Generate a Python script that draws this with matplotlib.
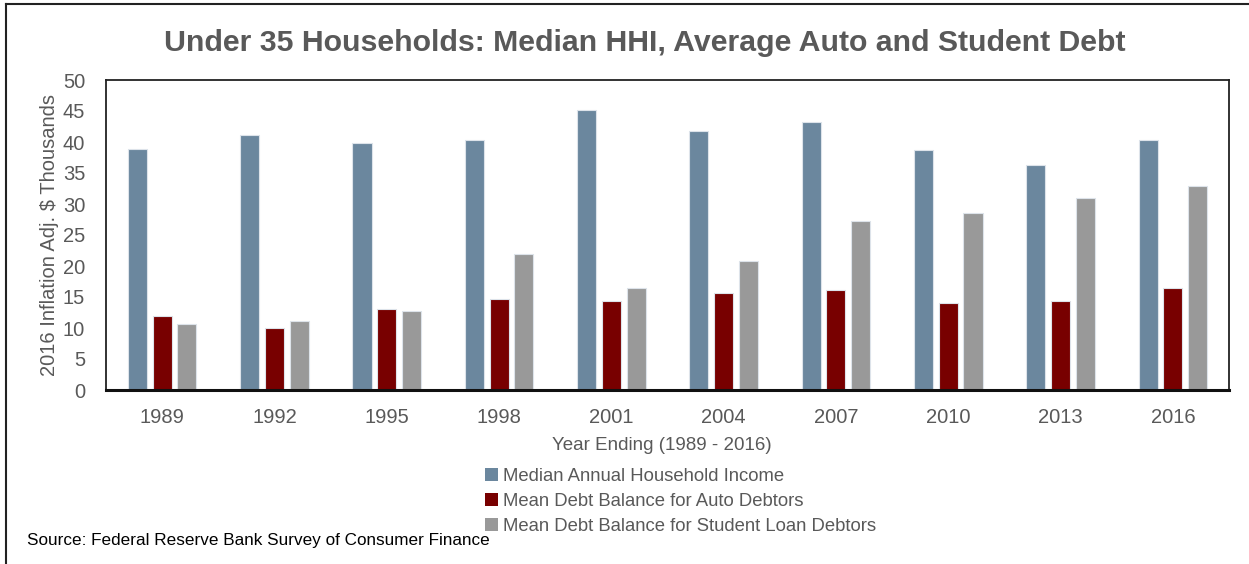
import matplotlib
matplotlib.use("Agg")
import matplotlib.pyplot as plt
import numpy as np
from matplotlib.lines import Line2D
from matplotlib.patches import Patch

plt.rcParams['font.family'] = ['Liberation Sans', 'DejaVu Sans']

years = ["1989", "1992", "1995", "1998", "2001", "2004", "2007", "2010", "2013", "2016"]
income = [38.8, 41.2, 39.9, 40.4, 45.1, 41.7, 43.3, 38.7, 36.3, 40.4]
auto_debt = [12.0, 9.95, 13.1, 14.6, 14.35, 15.6, 16.1, 14.0, 14.35, 16.4]
student_debt = [10.7, 11.2, 12.7, 22.0, 16.4, 20.8, 27.2, 28.5, 30.9, 32.9]
series_names = ["Median Annual Household Income",
                "Mean Debt Balance for Auto Debtors",
                "Mean Debt Balance for Student Loan Debtors"]
colors = ["#6b879e", "#780000", "#999999"]
yticks = [0, 5, 10, 15, 20, 25, 30, 35, 40, 45, 50]

W, H = 1249, 564
fig = plt.figure(figsize=(W / 100, H / 100), dpi=100)
ax = fig.add_axes([106 / W, 1 - 390 / H, (1229 - 106) / W, (390 - 80) / H])

x = np.arange(len(years))
width = 0.17
offs = [-0.22, 0.0, 0.22]
for vals, c, o in zip([income, auto_debt, student_debt], colors, offs):
    ax.bar(x + o, vals, width, color=c, edgecolor="#dde3ea", linewidth=0.8, zorder=2)

ax.set_xlim(-0.5, len(years) - 0.5)
ax.set_ylim(0, 50)
ax.set_yticks(yticks)
ax.set_yticklabels([str(v) for v in yticks])
ax.set_xticks(x)
ax.set_xticklabels(years)
ax.tick_params(axis='both', length=0, labelsize=14.5, colors="#595959")
ax.tick_params(axis='x', pad=13)
ax.tick_params(axis='y', pad=15)
for s in ["top", "right", "left"]:
    ax.spines[s].set_color("#222222")
    ax.spines[s].set_linewidth(1.3)
ax.spines["bottom"].set_color("#111111")
ax.spines["bottom"].set_linewidth(2.2)

ax.set_ylabel("2016 Inflation Adj. $ Thousands", fontsize=14.5, color="#595959", labelpad=3)

fig.text(645 / W, 1 - 43 / H, "Under 35 Households: Median HHI, Average Auto and Student Debt",
         ha="center", va="center", fontsize=21.8, fontweight="bold", color="#595959")
fig.text(662 / W, 1 - 445 / H, "Year Ending (1989 - 2016)", ha="center", va="center",
         fontsize=13.5, color="#595959")

handles = [Patch(facecolor=c, edgecolor="none") for c in colors]
leg = fig.legend(handles, series_names, loc="upper left",
                 bbox_to_anchor=(485 / W, 1 - 468 / H), frameon=False,
                 fontsize=13.3, handlelength=0.7, handleheight=0.7, handletextpad=0.3,
                 labelspacing=0.42, borderpad=0, borderaxespad=0)
for t in leg.get_texts():
    t.set_color("#595959")

fig.text(27 / W, 1 - 541 / H, "Source: Federal Reserve Bank Survey of Consumer Finance",
         ha="left", va="center", fontsize=12.3, color="#000000")

# outer frame (top and left edges)
fig.add_artist(Line2D([6 / W, 1.0], [1 - 4 / H, 1 - 4 / H], transform=fig.transFigure,
                      color="#222222", linewidth=1.5))
fig.add_artist(Line2D([6 / W, 6 / W], [0, 1 - 4 / H], transform=fig.transFigure,
                      color="#222222", linewidth=1.5))

fig.savefig("out.png", dpi=100)
